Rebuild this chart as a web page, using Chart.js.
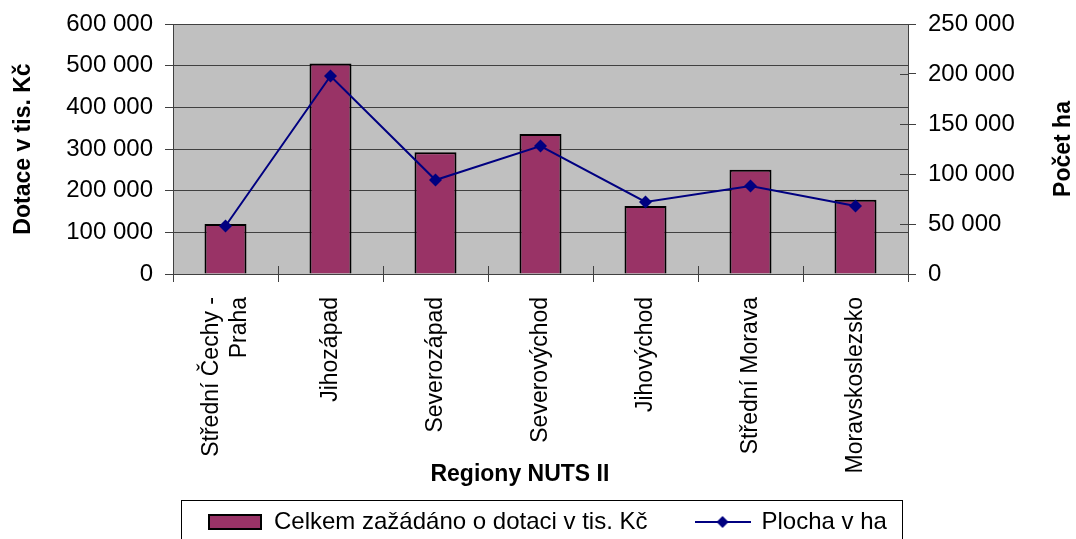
<!DOCTYPE html>
<html lang="cs">
<head>
<meta charset="utf-8">
<title>Dotace a plocha podle regionů NUTS II</title>
<script src="https://cdn.jsdelivr.net/npm/chart.js@4.4.1/dist/chart.umd.min.js"></script>
<style>
    html, body { margin: 0; padding: 0; background: #fff; }
    #chartBox { width: 1076px; height: 539px; }
</style>
</head>
<body>
<div id="chartBox"><canvas id="dotaceChart" width="1076" height="539"></canvas></div>
<script>
// --- DATA ---
const regions = [['Střední Čechy -', 'Praha'], 'Jihozápad', 'Severozápad', 'Severovýchod', 'Jihovýchod', 'Střední Morava', 'Moravskoslezsko'];
const dotace = [120000, 505000, 292000, 336000, 163000, 250000, 178000];   // tis. Kč
const plocha = [48000, 198000, 94000, 128000, 72000, 88000, 68000];        // ha
const dotaceTicks = { min: 0, max: 600000, step: 100000 };
const plochaTicks = { min: 0, max: 250000, step: 50000 };

const FONT = "'Liberation Sans', Arial, sans-serif";
const BAR_COLOR = '#993366';
const LINE_COLOR = '#000080';
const AXIS_COLOR = '#404040';

// "600 000" style thousands separator
const fmt = v => String(v).replace(/\B(?=(\d{3})+(?!\d))/g, ' ');

// --- legend swatches (Excel look: wide box, line with diamond) ---
const makeBarSwatch = () => {
    const c = document.createElement('canvas');
    c.width = 54; c.height = 16;
    const g = c.getContext('2d');
    g.fillStyle = BAR_COLOR;
    g.fillRect(1, 1, 52, 14);
    g.strokeStyle = '#000';
    g.lineWidth = 2;
    g.strokeRect(1, 1, 52, 14);
    return c;
};
const makeLineSwatch = () => {
    const c = document.createElement('canvas');
    c.width = 56; c.height = 14;
    const g = c.getContext('2d');
    g.strokeStyle = LINE_COLOR;
    g.lineWidth = 2;
    g.beginPath(); g.moveTo(0, 7); g.lineTo(56, 7); g.stroke();
    g.fillStyle = LINE_COLOR;
    g.beginPath(); g.moveTo(22, 7); g.lineTo(28, 1); g.lineTo(34, 7); g.lineTo(28, 13); g.closePath(); g.fill();
    return c;
};
const barSwatch = makeBarSwatch();
const lineSwatch = makeLineSwatch();

// --- PLUGINS ---
const plotBackground = {
    id: 'plotBackground',
    beforeDraw(chart) {
        const { ctx, chartArea: a } = chart;
        ctx.save();
        ctx.fillStyle = '#C0C0C0';
        ctx.fillRect(a.left, a.top, a.right - a.left, a.bottom - a.top);
        ctx.restore();
    }
};

// Chart.js puts extra lines of a rotated label to one side; centre them on the tick
const centerMultiline = {
    id: 'centerMultiline',
    beforeDraw(chart) {
        chart.scales.x.getLabelItems().forEach(item => {
            if (Array.isArray(item.label) && !item._centered) {
                item.textOffset -= (item.label.length - 1) * item.font.lineHeight / 2;
                item._centered = true;
            }
        });
    }
};

// tick marks in Excel cross the axis line, draw the inner halves
const innerTicks = {
    id: 'innerTicks',
    afterDatasetsDraw(chart) {
        const { ctx, chartArea: a, scales } = chart;
        ctx.save();
        ctx.strokeStyle = AXIS_COLOR;
        ctx.lineWidth = 1;
        ctx.beginPath();
        const n = regions.length;
        for (let i = 1; i < n; i++) {
            const x = Math.round(a.left + i * (a.right - a.left) / n) + 0.5;
            ctx.moveTo(x, a.bottom - 8); ctx.lineTo(x, a.bottom);
        }
        scales.y1.ticks.forEach(t => {
            const y = Math.round(scales.y1.getPixelForValue(t.value)) + 0.5;
            ctx.moveTo(a.right - 8, y); ctx.lineTo(a.right, y);
        });
        ctx.stroke();
        ctx.restore();
    }
};

const extraTitles = {
    id: 'extraTitles',
    afterDraw(chart) {
        const { ctx, chartArea: a } = chart;
        ctx.save();
        ctx.fillStyle = '#000';
        ctx.font = `bold 23px ${FONT}`;
        ctx.textAlign = 'center';
        ctx.textBaseline = 'middle';
        ctx.fillText('Regiony NUTS II', a.left + (a.right - a.left) * 0.472, 475);
        ctx.translate(1064, (a.top + a.bottom) / 2);
        ctx.rotate(-Math.PI / 2);
        ctx.fillText('Počet ha', 0, 0);
        ctx.restore();
    }
};

const legendPlacement = {
    id: 'legendPlacement',
    beforeLayout(chart) {
        const lg = chart.legend;
        if (lg && !lg._fitPatched) {
            const fit = lg.fit;
            lg.fit = function () { fit.call(this); this.height = 39; };
            lg._fitPatched = true;
        }
    },
    afterLayout(chart) {
        const lg = chart.legend;
        const pad = lg.options.labels.padding;
        lg.left = chart.chartArea.left + 35 - pad;
        lg.top = 510 - pad;
    },
    afterDraw(chart) {
        const { ctx, chartArea: a } = chart;
        ctx.save();
        ctx.strokeStyle = '#000';
        ctx.lineWidth = 1;
        ctx.strokeRect(Math.round(a.left + 8) + 0.5, 500.5, Math.round(a.right - a.left - 14), 60);
        ctx.restore();
    }
};

// --- CHART ---
new Chart(document.getElementById('dotaceChart'), {
    data: {
        labels: regions,
        datasets: [
            {
                type: 'bar',
                label: 'Celkem zažádáno o dotaci v tis. Kč',
                data: dotace,
                backgroundColor: BAR_COLOR,
                borderColor: '#000',
                borderWidth: 2,
                barPercentage: 0.4,
                categoryPercentage: 1,
                yAxisID: 'y',
                order: 1
            },
            {
                type: 'line',
                label: 'Plocha v ha',
                data: plocha,
                borderColor: LINE_COLOR,
                backgroundColor: LINE_COLOR,
                borderWidth: 2,
                pointStyle: 'rectRot',
                pointRadius: 6.5,
                pointBorderWidth: 0,
                tension: 0,
                yAxisID: 'y1',
                order: 0
            }
        ]
    },
    options: {
        responsive: false,
        animation: false,
        devicePixelRatio: 1,
        layout: { padding: { top: 21, left: 0, right: 0, bottom: 0 } },
        plugins: {
            tooltip: { enabled: false },
            legend: {
                position: 'bottom',
                align: 'start',
                labels: {
                    usePointStyle: true,
                    pointStyleWidth: 54,
                    padding: 48,
                    color: '#000',
                    font: { family: FONT, size: 24 },
                    generateLabels: chart => chart.data.datasets.map((ds, i) => ({
                        text: ds.label,
                        datasetIndex: i,
                        pointStyle: i === 0 ? barSwatch : lineSwatch,
                        fillStyle: 'transparent',
                        strokeStyle: 'transparent',
                        lineWidth: 0,
                        fontColor: '#000',
                        hidden: !chart.isDatasetVisible(i)
                    }))
                }
            }
        },
        scales: {
            x: {
                offset: true,
                afterFit: s => { s.height = 226; },
                grid: { offset: true, drawOnChartArea: false, drawTicks: true, tickLength: 8, color: AXIS_COLOR },
                border: { color: AXIS_COLOR, width: 1 },
                ticks: {
                    autoSkip: false, minRotation: 90, maxRotation: 90, padding: 15,
                    color: '#000', font: { family: FONT, size: 23 }
                }
            },
            y: {
                position: 'left',
                min: dotaceTicks.min, max: dotaceTicks.max,
                afterFit: s => { s.width = 173; },
                grid: { color: AXIS_COLOR, tickLength: 8 },
                border: { color: AXIS_COLOR, width: 1 },
                ticks: {
                    stepSize: dotaceTicks.step, padding: 12, color: '#000',
                    font: { family: FONT, size: 24, lineHeight: 1 },
                    callback: v => fmt(v)
                },
                title: {
                    display: true, text: 'Dotace v tis. Kč', color: '#000',
                    font: { family: FONT, size: 23, weight: 'bold' },
                    padding: { top: 10, bottom: 0 }
                }
            },
            y1: {
                position: 'right',
                min: plochaTicks.min, max: plochaTicks.max,
                afterFit: s => { s.width = 168; },
                grid: { drawOnChartArea: false, color: AXIS_COLOR, tickLength: 8 },
                border: { color: AXIS_COLOR, width: 1 },
                ticks: {
                    stepSize: plochaTicks.step, padding: 12, color: '#000',
                    font: { family: FONT, size: 24, lineHeight: 1 },
                    callback: v => fmt(v)
                }
            }
        }
    },
    plugins: [plotBackground, centerMultiline, innerTicks, extraTitles, legendPlacement]
});
</script>
</body>
</html>
